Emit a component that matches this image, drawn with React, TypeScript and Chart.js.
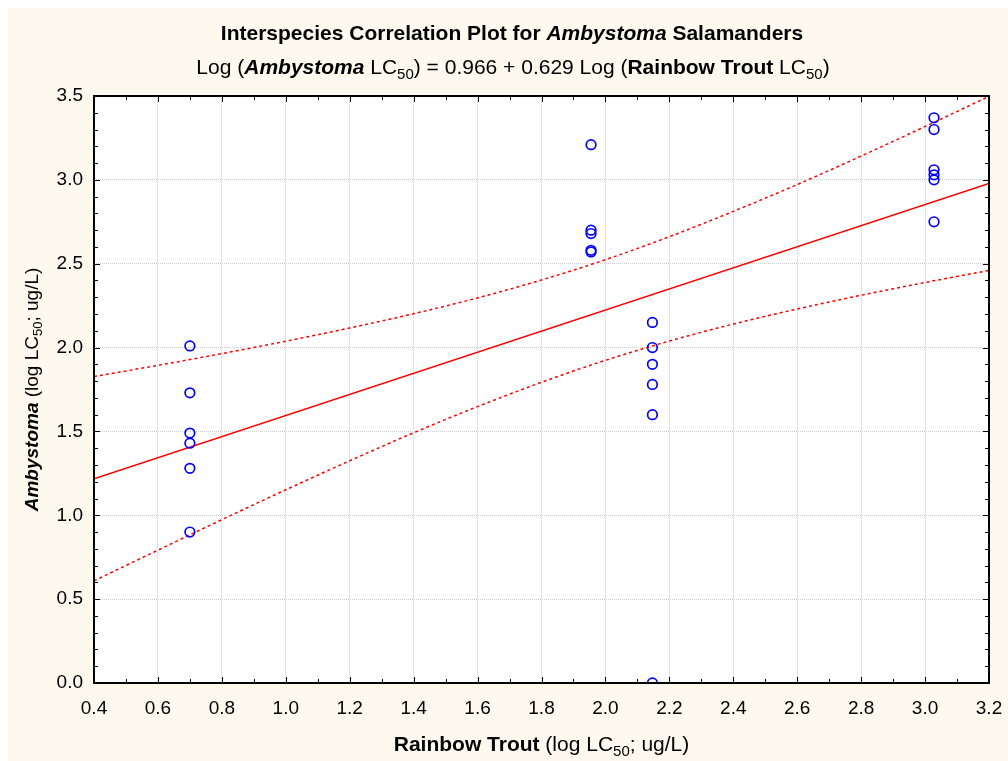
import React, { useEffect, useRef } from 'react';
import { Chart, registerables } from 'chart.js';

Chart.register(...registerables);

const troutLogLC50 = [
  0.70, 0.70, 0.70, 0.70, 0.70, 0.70,
  1.955, 1.955, 1.955, 1.955, 1.955,
  2.147, 2.147, 2.147, 2.147, 2.147, 2.147,
  3.028, 3.028, 3.028, 3.028, 3.028, 3.028,
];
const ambystomaLogLC50 = [
  2.01, 1.73, 1.49, 1.43, 1.28, 0.90,
  3.21, 2.70, 2.68, 2.58, 2.57,
  2.15, 2.00, 1.90, 1.78, 1.60, 0.00,
  3.37, 3.30, 3.06, 3.03, 3.00, 2.75,
];

// Regression line end points
const fitX = [0.4, 3.2];
const fitY = [1.218, 2.979];

// Confidence band
const bandX = [0.4, 0.6, 0.8, 1.0, 1.2, 1.4, 1.6, 1.8, 2.0, 2.2, 2.4, 2.6, 2.8, 3.0, 3.2];
const bandUpper = [1.827, 1.894, 1.964, 2.038, 2.117, 2.202, 2.296, 2.403, 2.524, 2.661, 2.812, 2.972, 3.142, 3.318, 3.498];
const bandLower = [0.609, 0.792, 0.974, 1.152, 1.325, 1.492, 1.648, 1.793, 1.924, 2.039, 2.140, 2.230, 2.312, 2.388, 2.460];

const xMin = 0.4;
const xMax = 3.2;
const xStep = 0.2;
const yMin = 0;
const yMax = 3.5;
const yStep = 0.5;

const FONT = '"Liberation Sans", Arial, Helvetica, sans-serif';
const SIZE = 19;
const TITLE_SIZE = 21;
const CREAM = '#FDF9EF';

type Seg = { t: string; b?: boolean; i?: boolean; sub?: boolean };

const titleSegs: Seg[] = [
  { t: 'Interspecies Correlation Plot for ', b: true },
  { t: 'Ambystoma', b: true, i: true },
  { t: ' Salamanders', b: true },
];
const subtitleSegs: Seg[] = [
  { t: 'Log (' },
  { t: 'Ambystoma', b: true, i: true },
  { t: ' LC' },
  { t: '50', sub: true },
  { t: ') = 0.966 + 0.629 Log (' },
  { t: 'Rainbow Trout', b: true },
  { t: ' LC' },
  { t: '50', sub: true },
  { t: ')' },
];
const xTitleSegs: Seg[] = [
  { t: 'Rainbow Trout', b: true },
  { t: ' (log LC' },
  { t: '50', sub: true },
  { t: '; ug/L)' },
];
const yTitleSegs: Seg[] = [
  { t: 'Ambystoma', b: true, i: true },
  { t: ' (log LC' },
  { t: '50', sub: true },
  { t: '; ug/L)' },
];

function segFont(s: Seg, size: number) {
  const sz = s.sub ? Math.round(size * 0.7) : size;
  return `${s.i ? 'italic ' : ''}${s.b ? 'bold ' : ''}${sz}px ${FONT}`;
}

function drawRich(ctx: CanvasRenderingContext2D, segs: Seg[], cx: number, baseline: number, size: number) {
  let total = 0;
  for (const s of segs) {
    ctx.font = segFont(s, size);
    total += ctx.measureText(s.t).width;
  }
  let x = cx - total / 2;
  ctx.textAlign = 'left';
  ctx.textBaseline = 'alphabetic';
  ctx.fillStyle = '#000';
  for (const s of segs) {
    ctx.font = segFont(s, size);
    ctx.fillText(s.t, x, baseline + (s.sub ? size * 0.22 : 0));
    x += ctx.measureText(s.t).width;
  }
}

const decorPlugin = {
  id: 'decor',
  beforeDraw(chart: any) {
    const { ctx, chartArea: a } = chart;
    ctx.save();
    ctx.fillStyle = '#ffffff';
    ctx.fillRect(a.left, a.top, a.right - a.left, a.bottom - a.top);
    ctx.restore();
  },
  afterDatasetsDraw(chart: any) {
    const { ctx, chartArea: a, scales } = chart;
    const xs = scales.x;
    const ys = scales.y;
    ctx.save();
    ctx.strokeStyle = '#000';
    ctx.lineWidth = 1;
    ctx.beginPath();
    const nx = Math.round((xMax - xMin) / 0.1);
    for (let k = 0; k <= nx; k++) {
      const v = xMin + k * 0.1;
      const px = Math.round(xs.getPixelForValue(v)) + 0.5;
      const major = Math.round(v * 10) % 2 === 0;
      const len = major ? 6 : 4;
      ctx.moveTo(px, a.bottom);
      ctx.lineTo(px, a.bottom - len);
      ctx.moveTo(px, a.top);
      ctx.lineTo(px, a.top + len);
    }
    const ny = Math.round((yMax - yMin) / 0.1);
    for (let k = 0; k <= ny; k++) {
      const v = yMin + k * 0.1;
      const py = Math.round(ys.getPixelForValue(v)) + 0.5;
      const major = Math.round(v * 10) % 5 === 0;
      const len = major ? 6 : 4;
      ctx.moveTo(a.left, py);
      ctx.lineTo(a.left + len, py);
      ctx.moveTo(a.right, py);
      ctx.lineTo(a.right - len, py);
    }
    ctx.stroke();
    ctx.lineWidth = 2;
    ctx.strokeRect(a.left, a.top, a.right - a.left, a.bottom - a.top);
    ctx.restore();
  },
  afterDraw(chart: any) {
    const { ctx, chartArea: a } = chart;
    ctx.save();
    const cx = (a.left + a.right) / 2;
    drawRich(ctx, titleSegs, 504, 32, TITLE_SIZE);
    drawRich(ctx, subtitleSegs, 505, 66, TITLE_SIZE);
    drawRich(ctx, xTitleSegs, cx, 743, TITLE_SIZE);
    ctx.translate(30, (a.top + a.bottom) / 2);
    ctx.rotate(-Math.PI / 2);
    drawRich(ctx, yTitleSegs, 0, 0, SIZE);
    ctx.restore();
  },
};

export default function App() {
  const ref = useRef<HTMLCanvasElement | null>(null);

  useEffect(() => {
    if (!ref.current) return;
    const points = troutLogLC50.map((x, i) => ({ x, y: ambystomaLogLC50[i] }));
    const fit = fitX.map((x, i) => ({ x, y: fitY[i] }));
    const upper = bandX.map((x, i) => ({ x, y: bandUpper[i] }));
    const lower = bandX.map((x, i) => ({ x, y: bandLower[i] }));

    const chart = new Chart(ref.current, {
      type: 'scatter',
      data: {
        datasets: [
          {
            label: 'Observed',
            data: points,
            showLine: false,
            pointStyle: 'circle',
            pointRadius: 4.8,
            pointBorderWidth: 1.7,
            borderColor: '#0000ff',
            backgroundColor: 'rgba(0,0,0,0)',
            clip: 0,
          },
          {
            label: 'Fit',
            data: fit,
            showLine: true,
            pointRadius: 0,
            borderColor: '#ff0000',
            borderWidth: 1.5,
            clip: 0,
          },
          {
            label: 'Upper 95%',
            data: upper,
            showLine: true,
            pointRadius: 0,
            borderColor: '#ff0000',
            borderWidth: 1.5,
            borderDash: [3, 3],
            cubicInterpolationMode: 'monotone',
            clip: 0,
          },
          {
            label: 'Lower 95%',
            data: lower,
            showLine: true,
            pointRadius: 0,
            borderColor: '#ff0000',
            borderWidth: 1.5,
            borderDash: [3, 3],
            cubicInterpolationMode: 'monotone',
            clip: 0,
          },
        ],
      } as any,
      options: {
        animation: false,
        responsive: false,
        devicePixelRatio: 1,
        events: [],
        layout: { padding: { top: 88, right: 19, left: 0, bottom: 0 } },
        plugins: {
          legend: { display: false },
          tooltip: { enabled: false },
          title: { display: false },
        },
        scales: {
          x: {
            type: 'linear',
            min: xMin,
            max: xMax,
            afterFit: (s: any) => {
              s.height = 78;
              s.paddingLeft = 0;
              s.paddingRight = 0;
            },
            ticks: {
              stepSize: xStep,
              autoSkip: false,
              maxRotation: 0,
              padding: 14,
              color: '#000',
              font: { family: FONT, size: SIZE },
              callback: (v: any) => Number(v).toFixed(1),
            },
            grid: { color: '#cccccc', lineWidth: 1, drawTicks: false, tickLength: 0 },
            border: { display: false, dash: [1, 1] },
          },
          y: {
            type: 'linear',
            min: yMin,
            max: yMax,
            afterFit: (s: any) => {
              s.width = 86;
              s.paddingTop = 0;
              s.paddingBottom = 0;
            },
            ticks: {
              stepSize: yStep,
              autoSkip: false,
              padding: 11,
              color: '#000',
              font: { family: FONT, size: SIZE },
              callback: (v: any) => Number(v).toFixed(1),
            },
            grid: { color: '#cccccc', lineWidth: 1, drawTicks: false, tickLength: 0 },
            border: { display: false, dash: [1, 1] },
          },
        },
      } as any,
      plugins: [decorPlugin],
    });
    return () => chart.destroy();
  }, []);

  return (
    <div style={{ position: 'absolute', left: 8, top: 8, width: 1000, height: 753, background: CREAM }}>
      <canvas ref={ref} width={1000} height={753} style={{ display: 'block', width: 1000, height: 753 }} />
    </div>
  );
}
